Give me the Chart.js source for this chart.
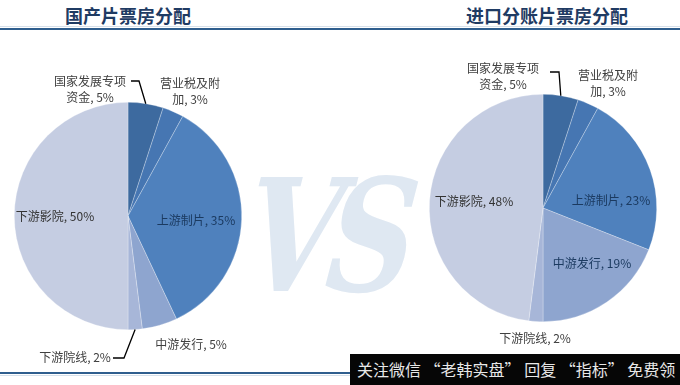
<!DOCTYPE html>
<html>
<head>
<meta charset="utf-8">
<script src="https://cdn.jsdelivr.net/npm/chart.js@4"></script>
<style>
  body { margin:0; background:#fff; font-family:"Noto Sans CJK SC", sans-serif; }
  #wrap { position:relative; width:680px; height:385px; overflow:hidden; }
  .title { position:absolute; top:2px; font-size:18px; font-weight:bold; color:#1F3B63; white-space:nowrap; transform:translateX(-50%); }
  .rule { position:absolute; left:0; height:2px; background:#2F5E8E; }
  .vs { position:absolute; left:238px; top:166px; font-family:"DejaVu Serif", serif; font-style:italic; font-weight:bold;
        font-size:136px; line-height:140px; color:#DFE8F2; letter-spacing:-14px; transform:skewX(-6deg) scale(0.9, 1.15); }
  canvas { position:absolute; top:0; }
  .bar { position:absolute; left:350px; top:354px; width:330px; height:31px; background:#060606; color:#E8E8E8;
         font-size:16px; line-height:31px; white-space:nowrap; padding-left:7px; overflow:hidden; }
</style>
</head>
<body>
<div id="wrap">
  <div class="vs">VS</div>
  <div class="title" style="left:128px">国产片票房分配</div>
  <div class="title" style="left:547px">进口分账片票房分配</div>
  <div class="rule" style="top:26px;width:680px;height:1px;background:#D6E0EA"></div>
  <div class="rule" style="top:28px;width:680px"></div>
  <div class="rule" style="top:372px;width:352px"></div>
  <div class="rule" style="top:375px;width:352px;height:1px;background:#D6E0EA"></div>
  <canvas id="left" width="340" height="385" style="left:0"></canvas>
  <canvas id="right" width="340" height="385" style="left:340px"></canvas>
  <div class="bar">关注微信 “老韩实盘” 回复 “指标” 免费领</div>
</div>
<script>
// slices, clockwise from 12 o'clock
const categories = ['国家发展专项资金', '营业税及附加', '上游制片', '中游发行', '下游院线', '下游影院'];
const domesticShare = [5, 3, 35, 5, 2, 50];   // 国产片
const importShare = [5, 3, 23, 19, 2, 48];    // 进口分账片

const sliceColors = ['#3D6A9F', '#4676B2', '#4F81BD', '#8EA5CF', '#A7B6D8', '#C5CDE2'];

// label text split in lines (% appended)
const labelLines = [['国家发展专项', '资金, '], ['营业税及附', '加, '], ['上游制片, '], ['中游发行, '], ['下游院线, '], ['下游影院, ']];

// label placement relative to pie centre: [dx, dy, colour, leader]
const leftLayout = [
  [-38, -135, '#404040', [3, -135, 11, -135]],
  [62, -133, '#404040', null],
  [68, 4, '#1B3A60', null],
  [63, 128, '#404040', null],
  [-53, 141, '#404040', [-15, 142, -4, 142]],
  [-73, 0, '#333333', null]
];
const rightLayout = [
  [-40, -140, '#404040', [7, -136, 16, -136]],
  [65, -133, '#404040', null],
  [68, -8, '#1B3A60', null],
  [49, 55, '#1B3A60', null],
  [-8, 130, '#404040', null],
  [-69, -7, '#333333', null]
];

const labelPlugin = {
  id: 'labels',
  afterDraw(chart) {
    const ctx = chart.ctx;
    const meta = chart.getDatasetMeta(0);
    const values = chart.data.datasets[0].data;
    const layout = chart.options.plugins.labels.layout;
    ctx.save();
    ctx.textAlign = 'center';
    ctx.textBaseline = 'middle';
    ctx.font = '12px "Noto Sans CJK SC", sans-serif';
    meta.data.forEach((arc, i) => {
      const [dx, dy, color, leader] = layout[i];
      const cx = arc.x, cy = arc.y;
      const lines = labelLines[i].slice();
      lines[lines.length - 1] += values[i] + '%';
      ctx.fillStyle = color;
      lines.forEach((t, k) => ctx.fillText(t, cx + dx, cy + dy + k * 16));
      if (leader) {
        const mid = (arc.startAngle + arc.endAngle) / 2;
        ctx.strokeStyle = '#000';
        ctx.lineWidth = 1.3;
        ctx.beginPath();
        ctx.moveTo(cx + leader[0], cy + leader[1]);
        ctx.lineTo(cx + leader[2], cy + leader[3]);
        ctx.lineTo(cx + Math.cos(mid) * arc.outerRadius, cy + Math.sin(mid) * arc.outerRadius);
        ctx.stroke();
      }
    });
    ctx.restore();
  }
};

function makePie(id, values, layout, padding) {
  new Chart(document.getElementById(id), {
    type: 'pie',
    data: {
      labels: categories,
      datasets: [{
        data: values,
        backgroundColor: sliceColors,
        borderColor: 'rgba(255,255,255,0.45)',
        borderWidth: 0.6
      }]
    },
    options: {
      responsive: false,
      animation: false,
      layout: { padding: padding },
      plugins: {
        legend: { display: false },
        tooltip: { enabled: false },
        labels: { layout: layout }
      }
    },
    plugins: [labelPlugin]
  });
}

makePie('left', domesticShare, leftLayout, { left: 14, right: 98, top: 102, bottom: 55 });
makePie('right', importShare, rightLayout, { left: 89, right: 23, top: 94, bottom: 63 });
</script>
</body>
</html>
